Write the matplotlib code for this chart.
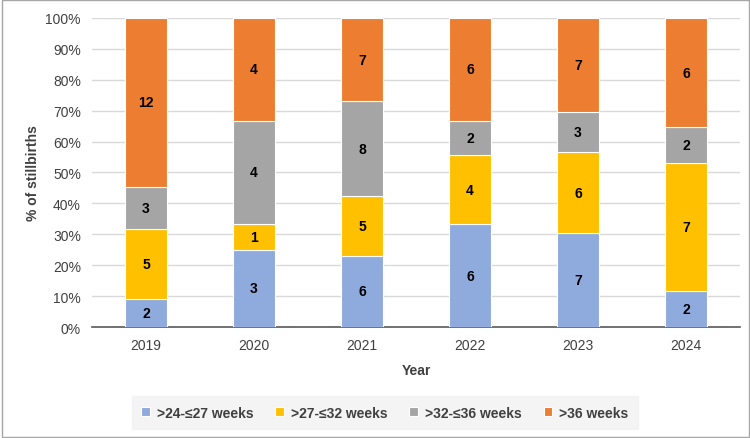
import matplotlib.pyplot as plt
import numpy as np
from matplotlib.patches import Rectangle

years = ["2019", "2020", "2021", "2022", "2023", "2024"]
categories = [">24-\u226427 weeks", ">27-\u226432 weeks", ">32-\u226436 weeks", ">36 weeks"]
w24_27 = [2, 3, 6, 6, 7, 2]
w27_32 = [5, 1, 5, 4, 6, 7]
w32_36 = [3, 4, 8, 2, 3, 2]
w36_plus = [12, 4, 7, 6, 7, 6]
colors = ["#8faadc", "#ffc000", "#a5a5a5", "#ed7d31"]

plt.rcParams['font.family'] = ['Liberation Sans', 'DejaVu Sans']

counts = np.array([w24_27, w27_32, w32_36, w36_plus], dtype=float)
totals = counts.sum(axis=0)
pct = counts / totals * 100

fig = plt.figure(figsize=(7.5, 4.39), dpi=100)
ax = fig.add_axes([0.1227, 0.2528, 0.864, 0.704])

x = np.arange(len(years))
bottom = np.zeros(len(years))
handles = []
for i, cat in enumerate(categories):
    bars = ax.bar(x, pct[i], 0.39, bottom=bottom, color=colors[i],
                  edgecolor="white", linewidth=0.8, label=cat, zorder=3)
    handles.append(bars)
    for j in range(len(years)):
        ax.text(x[j], bottom[j] + pct[i][j] / 2, f"{int(counts[i][j])}",
                ha="center", va="center", fontsize=10, fontweight="bold",
                color="black", zorder=4)
    bottom += pct[i]

ax.set_xlim(-0.5, len(years) - 0.5)
ax.set_ylim(0, 100)
ax.set_yticks(np.arange(0, 101, 10))
ax.set_yticklabels([f"{v}%" for v in range(0, 101, 10)], fontsize=10, color="#404040")
ax.set_xticks(x)
ax.set_xticklabels(years, fontsize=10, color="#404040")
ax.tick_params(length=0, pad=8)
ax.grid(axis="y", color="#d9d9d9", linewidth=1, zorder=0)
for s in ["top", "right", "left"]:
    ax.spines[s].set_visible(False)
ax.spines["bottom"].set_color("#595959")
ax.spines["bottom"].set_linewidth(1.2)

ax.set_xlabel("Year", fontsize=10, fontweight="bold", color="#404040", labelpad=8)
ax.set_ylabel("% of stillbirths", fontsize=10, fontweight="bold", color="#404040", labelpad=4)

leg = fig.legend(handles=handles, labels=categories, loc="center",
                 bbox_to_anchor=(0.513, 0.058), ncol=4, frameon=True,
                 fontsize=10, handlelength=0.6, handleheight=0.6,
                 columnspacing=1.6, handletextpad=0.5, borderpad=0.7)
leg.get_frame().set_facecolor("#f2f2f2")
leg.get_frame().set_edgecolor("#f2f2f2")
leg.get_frame().set_boxstyle("square", pad=0)
for t in leg.get_texts():
    t.set_fontweight("bold")
    t.set_color("#404040")

fig.patches.append(Rectangle((0.002, 0.002), 0.996, 0.996, transform=fig.transFigure,
                             fill=False, edgecolor="#a6a6a6", linewidth=1))

fig.savefig("out.png", dpi=100)
